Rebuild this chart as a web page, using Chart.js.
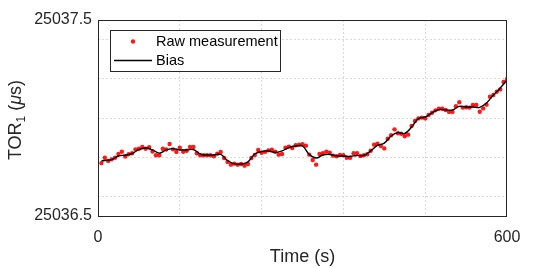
<!DOCTYPE html>
<html>
<head>
<meta charset="utf-8">
<script src="https://cdn.jsdelivr.net/npm/chart.js@4.4.1/dist/chart.umd.min.js"></script>
<style>
	html, body { margin: 0; padding: 0; background: #fff; }
</style>
</head>
<body>
<canvas id="torChart" width="560" height="268"></canvas>
<script>
// 원시 측정값 (5초 간격)
const rawTimes = [5, 10, 15, 20, 25, 30, 35, 40, 45, 50, 55, 60, 65, 70, 75, 80, 85, 90, 95, 100,
	105, 110, 115, 120, 125, 130, 135, 140, 145, 150, 155, 160, 165, 170, 175, 180, 185, 190, 195, 200,
	205, 210, 215, 220, 225, 230, 235, 240, 245, 250, 255, 260, 265, 270, 275, 280, 285, 290, 295, 300,
	305, 310, 315, 320, 325, 330, 335, 340, 345, 350, 355, 360, 365, 370, 375, 380, 385, 390, 395, 400,
	405, 410, 415, 420, 425, 430, 435, 440, 445, 450, 455, 460, 465, 470, 475, 480, 485, 490, 495, 500,
	505, 510, 515, 520, 525, 530, 535, 540, 545, 550, 555, 560, 565, 570, 575, 580, 585, 590, 595, 600];
const rawValues = [25036.770, 25036.797, 25036.781, 25036.789, 25036.797, 25036.816, 25036.828, 25036.803, 25036.815, 25036.820,
	25036.840, 25036.843, 25036.852, 25036.843, 25036.851, 25036.829, 25036.810, 25036.810, 25036.843, 25036.839,
	25036.867, 25036.840, 25036.827, 25036.848, 25036.828, 25036.833, 25036.852, 25036.852, 25036.820, 25036.810,
	25036.810, 25036.810, 25036.810, 25036.805, 25036.818, 25036.827, 25036.796, 25036.776, 25036.762, 25036.767,
	25036.762, 25036.765, 25036.757, 25036.765, 25036.796, 25036.811, 25036.837, 25036.823, 25036.827, 25036.835,
	25036.838, 25036.828, 25036.813, 25036.816, 25036.848, 25036.854, 25036.847, 25036.861, 25036.864, 25036.866,
	25036.859, 25036.813, 25036.786, 25036.762, 25036.816, 25036.820, 25036.828, 25036.823, 25036.808, 25036.805,
	25036.811, 25036.810, 25036.797, 25036.797, 25036.820, 25036.821, 25036.806, 25036.810, 25036.815, 25036.833,
	25036.864, 25036.869, 25036.857, 25036.845, 25036.894, 25036.912, 25036.942, 25036.922, 25036.920, 25036.907,
	25036.915, 25036.959, 25036.985, 25036.998, 25037.002, 25036.998, 25037.015, 25037.027, 25037.039, 25037.047,
	25037.047, 25037.041, 25037.031, 25037.031, 25037.060, 25037.080, 25037.053, 25037.055, 25037.053, 25037.066,
	25037.066, 25037.032, 25037.049, 25037.068, 25037.109, 25037.117, 25037.134, 25037.146, 25037.184, 25037.199];

// 바이어스 곡선
const biasTimes = [5, 10, 20, 30, 40, 50, 60, 70, 80, 90, 100, 110, 120, 130, 140, 150, 160, 170, 180, 190, 200,
	210, 220, 230, 240, 250, 260, 270, 280, 290, 300, 310, 320, 330, 340, 350, 360, 370, 380, 390, 400,
	410, 420, 430, 440, 450, 460, 470, 480, 490, 500, 510, 520, 530, 540, 550, 560, 570, 580, 590, 600];
const biasValues = [25036.781, 25036.783, 25036.788, 25036.806, 25036.811, 25036.819, 25036.839, 25036.847, 25036.837, 25036.821, 25036.837,
	25036.844, 25036.837, 25036.837, 25036.839, 25036.816, 25036.811, 25036.811, 25036.814, 25036.783, 25036.766,
	25036.765, 25036.776, 25036.816, 25036.829, 25036.832, 25036.824, 25036.832, 25036.849, 25036.857, 25036.857,
	25036.814, 25036.796, 25036.811, 25036.814, 25036.807, 25036.806, 25036.804, 25036.809, 25036.809, 25036.832,
	25036.860, 25036.872, 25036.908, 25036.926, 25036.921, 25036.954, 25036.997, 25037.005, 25037.026, 25037.043,
	25037.041, 25037.041, 25037.059, 25037.056, 25037.056, 25037.054, 25037.077, 25037.117, 25037.153, 25037.194];

// 축 눈금
const xTickValues = [0, 120, 240, 360, 480, 600];
const xTickLabels = ["0", "600"];
const yTickValues = [25036.5, 25036.6, 25036.8, 25037.0, 25037.2, 25037.4, 25037.5];
const yTickLabels = ["25036.5", "25037.5"];

const textColor = '#262626';
const fontFamily = '"Liberation Sans", Arial, Helvetica, sans-serif';

let rawPoints = rawTimes.map((t, i) => ({x: t, y: rawValues[i]}));
let biasPoints = biasTimes.map((t, i) => ({x: t, y: biasValues[i]}));

let ctx = document.getElementById('torChart').getContext('2d');
let torChart = new Chart(ctx, {
	type: 'scatter',
	data: {
		datasets: [{
			label: 'Raw measurement',
			data: rawPoints,
			showLine: false,
			pointRadius: 2.2,
			pointBorderWidth: 0,
			pointBackgroundColor: 'rgba(255, 0, 0, 0.9)',
			order: 1
		}, {
			label: 'Bias',
			data: biasPoints,
			showLine: true,
			borderColor: '#000',
			borderWidth: 1.4,
			pointRadius: 0,
			tension: 0.4,
			order: 0
		}]
	},
	options: {
		responsive: false,
		animation: false,
		devicePixelRatio: 1,
		layout: {
			padding: {top: 20, right: 53, left: 0, bottom: 0}
		},
		plugins: {
			legend: { display: false },
			tooltip: { enabled: false }
		},
		scales: {
			x: {
				type: 'linear',
				min: 0,
				max: 600,
				afterBuildTicks(scale) {
					scale.ticks = xTickValues.map(v => ({value: v}));
				},
				afterFit(scale) {
					scale.height = 52;
				},
				ticks: {
					autoSkip: false,
					maxRotation: 0,
					padding: 12,
					color: textColor,
					font: {family: fontFamily, size: 16},
					callback(value) {
						let s = String(value);
						return xTickLabels.includes(s) ? s : '';
					}
				},
				grid: {
					drawTicks: false,
					lineWidth: 1,
					color(c) {
						let v = c.tick ? c.tick.value : null;
						return (v === 0 || v === 600) ? 'rgba(0,0,0,0)' : '#dadada';
					}
				},
				border: { display: false, dash: [2, 2] },
				title: {
					display: true,
					text: 'Time (s)',
					color: textColor,
					font: {family: fontFamily, size: 18},
					padding: {top: 3, bottom: 0}
				}
			},
			y: {
				min: 25036.5,
				max: 25037.5,
				afterBuildTicks(scale) {
					scale.ticks = yTickValues.map(v => ({value: v}));
				},
				afterFit(scale) {
					scale.width = 98;
				},
				ticks: {
					autoSkip: false,
					padding: 6,
					color: textColor,
					font: {family: fontFamily, size: 16},
					callback(value) {
						let s = value.toFixed(1);
						return yTickLabels.includes(s) ? s : '';
					}
				},
				grid: {
					drawTicks: false,
					lineWidth: 1,
					color(c) {
						let v = c.tick ? c.tick.value : null;
						return (v === 25036.5 || v === 25037.5) ? 'rgba(0,0,0,0)' : '#dadada';
					}
				},
				border: { display: false, dash: [2, 2] }
			}
		}
	},
	plugins: [
		{
			// 축 테두리, 범례, y축 제목
			id: 'frameLegendTitle',
			afterDraw(chart) {
				const {ctx, chartArea: area} = chart;
				ctx.save();

				// 축 박스
				ctx.strokeStyle = '#262626';
				ctx.lineWidth = 1;
				ctx.setLineDash([]);
				ctx.strokeRect(Math.round(area.left) + 0.5, Math.round(area.top) + 0.5,
					Math.round(area.right - area.left) - 1, Math.round(area.bottom - area.top));

				// 범례
				const lx = 110.5, ly = 30.5, lw = 170, lh = 41;
				ctx.fillStyle = '#fff';
				ctx.fillRect(lx, ly, lw, lh);
				ctx.strokeStyle = '#262626';
				ctx.strokeRect(lx, ly, lw, lh);

				const raw = chart.data.datasets[0];
				const bias = chart.data.datasets[1];
				ctx.fillStyle = raw.pointBackgroundColor;
				ctx.beginPath();
				ctx.arc(133, 41.5, 2.2, 0, Math.PI * 2);
				ctx.fill();

				ctx.strokeStyle = bias.borderColor;
				ctx.lineWidth = 1.4;
				ctx.beginPath();
				ctx.moveTo(114, 60.5);
				ctx.lineTo(152, 60.5);
				ctx.stroke();

				ctx.fillStyle = '#000';
				ctx.font = '14.5px ' + fontFamily;
				ctx.textBaseline = 'middle';
				ctx.textAlign = 'left';
				ctx.fillText(raw.label, 156, 42);
				ctx.fillText(bias.label, 156, 61);

				// y축 제목 TOR_1 (μs)
				const parts = [
					{t: 'TOR', font: '18px ' + fontFamily, dy: 0},
					{t: '1', font: '12px ' + fontFamily, dy: 4},
					{t: ' (', font: '18px ' + fontFamily, dy: 0},
					{t: 'μ', font: 'italic 18px ' + fontFamily, dy: 0},
					{t: 's)', font: '18px ' + fontFamily, dy: 0}
				];
				let total = 0;
				parts.forEach(p => { ctx.font = p.font; p.w = ctx.measureText(p.t).width; total += p.w; });
				ctx.translate(21, 120);
				ctx.rotate(-Math.PI / 2);
				ctx.fillStyle = textColor;
				ctx.textBaseline = 'alphabetic';
				let cx = -total / 2;
				parts.forEach(p => {
					ctx.font = p.font;
					ctx.fillText(p.t, cx, p.dy);
					cx += p.w;
				});
				ctx.restore();
			}
		}
	]
});
</script>
</body>
</html>
